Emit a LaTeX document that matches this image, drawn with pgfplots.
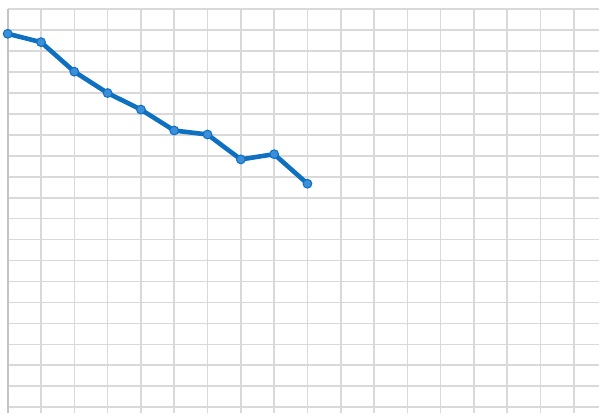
\documentclass[border=0pt]{standalone}
\usepackage{pgfplots}
\pgfplotsset{compat=1.18}
\definecolor{gridgray}{HTML}{D9D9D9}
\definecolor{axisgray}{HTML}{C4C4C4}
\definecolor{lineblue}{HTML}{0E70C0}
\definecolor{markblue}{HTML}{3B8EDA}
\begin{document}
\begin{tikzpicture}
\begin{axis}[
    scale only axis,
    width=592.3pt, height=404.7pt,
    xmin=0, xmax=17.76,
    ymin=-0.3, ymax=19,
    xtick={0,...,17}, ytick={0,...,19},
    xticklabels={}, yticklabels={},
    every tick label/.append style={overlay},
    major tick length=0pt,
    xmajorgrids=true, ymajorgrids=true,
    major grid style={gridgray, line width=1.6pt},
    axis x line*=bottom,
    axis y line*=left,
    x axis line style={draw=none},
    y axis line style={axisgray, line width=1.8pt, -},
    clip=false,
]
\addplot[lineblue, line width=4.6pt, mark=*, mark size=4.4pt,
    mark options={fill=markblue, draw=lineblue, line width=1pt}]
coordinates {
(0,17.83) (1,17.43) (2,16.02) (3,15.00) (4,14.21)
(5,13.21) (6,13.02) (7,11.83) (8,12.08) (9,10.67)
};
\path[use as bounding box] (axis cs:-0.231,-0.3) rectangle (axis cs:17.76,19.443);
\end{axis}
\end{tikzpicture}
\end{document}
